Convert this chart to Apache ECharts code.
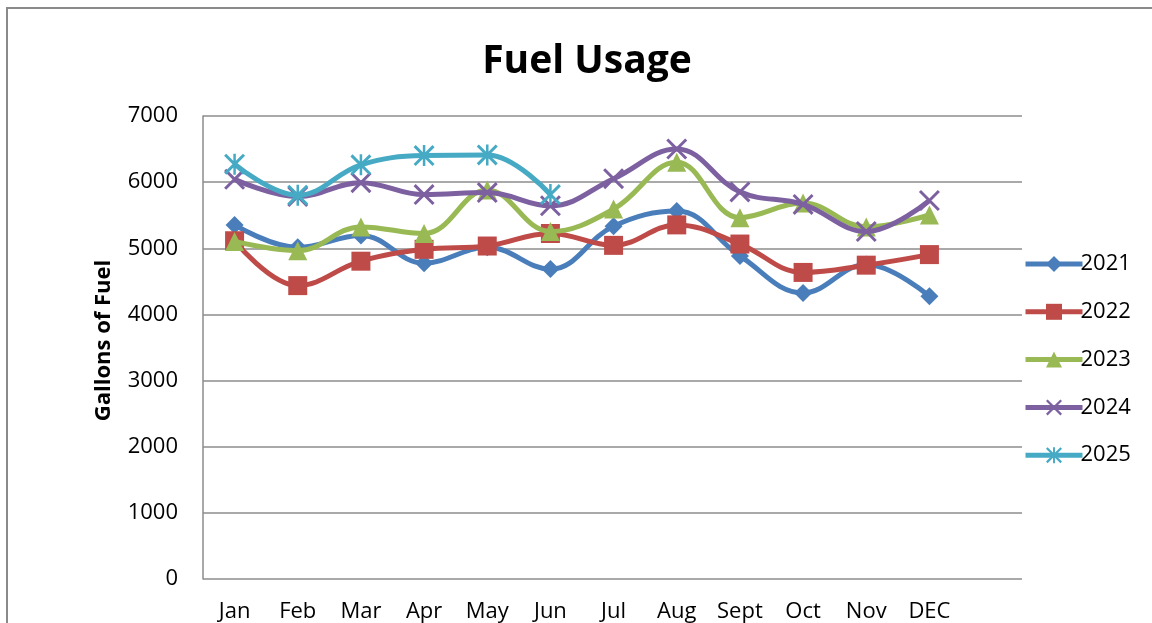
<!DOCTYPE html>
<html>
<head>
<meta charset="utf-8">
<script src="https://cdn.jsdelivr.net/npm/echarts@6/dist/echarts.min.js"></script>
<style>
html,body{margin:0;padding:0;background:#fff;}
#chart{width:1152px;height:623px;}
</style>
</head>
<body>
<div id="chart"></div>
<script>
const months = ['Jan','Feb','Mar','Apr','May','Jun','Jul','Aug','Sept','Oct','Nov','DEC'];
const yTicks = [0, 1000, 2000, 3000, 4000, 5000, 6000, 7000];
const s2021 = [5350, 5010, 5190, 4770, 5010, 4680, 5330, 5560, 4880, 4320, 4750, 4270];
const s2022 = [5110, 4430, 4800, 4980, 5030, 5220, 5040, 5350, 5060, 4630, 4740, 4900];
const s2023 = [5100, 4960, 5320, 5220, 5880, 5250, 5590, 6300, 5460, 5680, 5320, 5500];
const s2024 = [6040, 5780, 5990, 5810, 5840, 5640, 6050, 6500, 5850, 5660, 5250, 5720];
const s2025 = [6270, 5800, 6260, 6400, 6410, 5810];
const seriesNames = ['2021','2022','2023','2024','2025'];
const seriesColors = ['#4A7EBB','#BE4B48','#98B954','#7D60A0','#46AAC5'];

const X_PATH = 'path://M0,1 L1,0 L10,9 L9,10 Z M9,0 L10,1 L1,10 L0,9 Z';
const STAR_PATH = 'path://M0,1 L1,0 L10,9 L9,10 Z M9,0 L10,1 L1,10 L0,9 Z M4.4,0 L5.6,0 L5.6,10 L4.4,10 Z';

const symbols = ['diamond','rect','triangle',X_PATH,STAR_PATH];
const symbolSizes = [18,19,19,21,21];
const data = [s2021,s2022,s2023,s2024,s2025];

const FONT = '"Open Sans"';
const chart = echarts.init(document.getElementById('chart'));
const gridColor = '#8c8c8c';

chart.setOption({
  backgroundColor: '#ffffff',
  animation: false,
  title: {
    text: 'Fuel Usage',
    left: 582, textAlign: 'center', top: 37,
    textStyle: {fontFamily: FONT, fontWeight: 'bold', fontSize: 39, color: '#000'}
  },
  graphic: [{
    type: 'polyline',
    shape: {points: [[7,640],[7,8],[1152,8]]},
    style: {stroke: '#8a8a8a', lineWidth: 2, fill: null},
    silent: true
  }],
  legend: {
    orient: 'vertical',
    left: 1018, top: 248,
    itemWidth: 57, itemHeight: 20, itemGap: 25.8,
    data: seriesNames,
    lineStyle: {width: 5},
    textStyle: {fontFamily: FONT, fontSize: 22, color: '#000', padding: [0,0,0,-7]}
  },
  grid: [
    {left: 203, right: 130, top: 116, bottom: 44},
    {left: 203, right: 191, top: 116, bottom: 44}
  ],
  xAxis: [
    {type: 'value', gridIndex: 0, show: false, min: 0, max: 1},
    {type: 'category', gridIndex: 1, data: months, boundaryGap: true,
     axisLine: {show: false}, axisTick: {show: false},
     axisLabel: {margin: 23, fontFamily: FONT, fontSize: 22, color: '#000', interval: 0}}
  ],
  yAxis: [
    {type: 'value', gridIndex: 0, min: yTicks[0], max: yTicks[yTicks.length-1], interval: 1000,
     name: 'Gallons of Fuel', nameLocation: 'middle', nameGap: 88, nameRotate: 90,
     nameTextStyle: {fontFamily: FONT, fontWeight: 'bold', fontSize: 22, color: '#000', padding: [0,0,0,14]},
     axisLine: {show: true, lineStyle: {color: gridColor, width: 1.5}},
     axisTick: {show: false},
     axisLabel: {margin: 25, fontFamily: FONT, fontSize: 22, color: '#000', formatter: v => String(v)},
     splitLine: {show: true, lineStyle: {color: gridColor, width: 1.5}}},
    {type: 'value', gridIndex: 1, min: 0, max: 7000, show: false, splitLine: {show: false}}
  ],
  series: data.map((d, i) => ({
    name: seriesNames[i],
    type: 'line',
    xAxisIndex: 1, yAxisIndex: 1,
    data: d,
    smooth: 0.4,
    symbol: symbols[i],
    symbolSize: symbolSizes[i],
    symbolKeepAspect: true,
    showAllSymbol: true,
    lineStyle: {color: seriesColors[i], width: 5},
    itemStyle: {color: seriesColors[i]},
    z: 2 + i
  }))
});
</script>
</body>
</html>
